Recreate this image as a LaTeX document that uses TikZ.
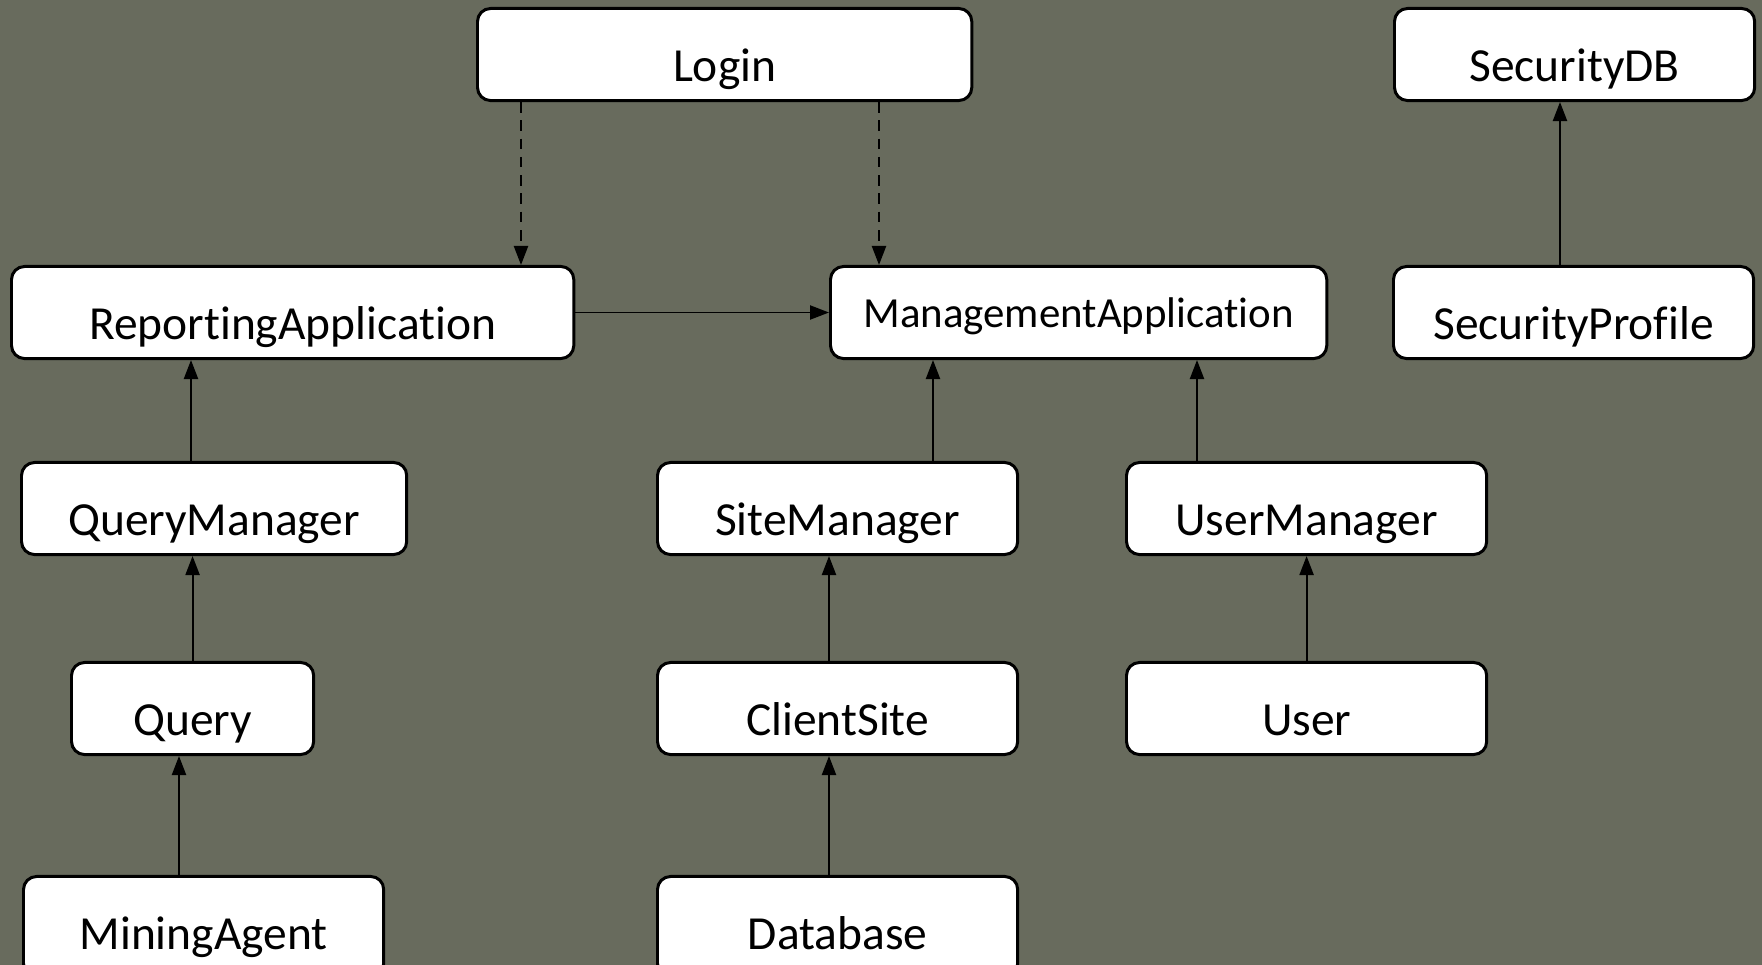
\documentclass[tikz,border=0pt]{standalone}
\usepackage{fontspec}
\setmainfont[Ligatures=NoCommon]{Carlito}
\usetikzlibrary{positioning,calc,arrows.meta}
\definecolor{slate}{RGB}{104,107,93}
\tikzset{>={Triangle[length=5.4pt,width=4pt]}}
\tikzset{
  classbox/.style={draw,fill=white,line width=0.85pt,rounded corners=0.13cm,
    anchor=north west,inner sep=0pt,minimum height=0.92cm,
    text height=0.73cm,text depth=0.19cm,font=\fontsize{13.5}{15}\selectfont},
  flow/.style={->,line width=0.55pt},
  uses/.style={->,line width=0.55pt,dash pattern=on 3pt off 2.2pt}
}

\begin{document}
\begin{tikzpicture}[x=0.01cm,y=-0.01cm]
% Canvas in pixels of the reference
\useasboundingbox (0,0) rectangle (1762,965);
\fill[slate] (0,0) rectangle (1762,965);

% Top row
\node[classbox,minimum width=4.94cm] (login) at (476,7) {Login};
\node[classbox,minimum width=3.60cm] (secdb) at (1393,7) {SecurityDB};

% Applications
\node[classbox,minimum width=5.62cm] (reporting) at (10,265) {ReportingApplication};
\node[classbox,minimum width=4.96cm,text height=0.61cm,text depth=0.31cm,
      font=\fontsize{12.2}{14}\selectfont] (management) at (829,265) {ManagementApplication};
\node[classbox,minimum width=3.60cm] (secprofile) at (1392,265) {SecurityProfile};

% Managers
\node[classbox,minimum width=3.85cm] (querymgr) at (20,461) {QueryManager};
\node[classbox,minimum width=3.60cm] (sitemgr) at (656,461) {SiteManager};
\node[classbox,minimum width=3.60cm] (usermgr) at (1125,461) {UserManager};

% Entities
\node[classbox,minimum width=2.42cm] (query) at (70,661) {Query};
\node[classbox,minimum width=3.60cm] (client) at (656,661) {ClientSite};
\node[classbox,minimum width=3.60cm] (user) at (1125,661) {User};

% Bottom row, cut by the canvas edge
\node[classbox,minimum width=3.60cm,minimum height=1.0cm,text depth=0.27cm] (miner) at (22,875) {MiningAgent};
\node[classbox,minimum width=3.60cm,minimum height=1.0cm,text depth=0.27cm] (database) at (656,875) {Database};

% Dependencies from Login
\draw[uses] ($(login.south west)+(45,0)$) coordinate (l1) -- (l1 |- reporting.north);
\draw[uses] ($(login.south west)+(403,0)$) coordinate (l2) -- (l2 |- management.north);

% Associations
\draw[flow] (reporting.east) -- (management.west);
\draw[flow] ($(querymgr.north west)+(171,0)$) coordinate (q1) -- (q1 |- reporting.south);
\draw[flow] (query.north) -- (query.north |- querymgr.south);
\draw[flow] ($(miner.north west)+(157,0)$) coordinate (m1) -- (m1 |- query.south);
\draw[flow] ($(sitemgr.north west)+(277,0)$) coordinate (s1) -- (s1 |- management.south);
\draw[flow] ($(client.north west)+(173,0)$) coordinate (c1) -- (c1 |- sitemgr.south);
\draw[flow] ($(database.north west)+(173,0)$) coordinate (d1) -- (d1 |- client.south);
\draw[flow] ($(usermgr.north west)+(72,0)$) coordinate (u1) -- (u1 |- management.south);
\draw[flow] (user.north) -- (usermgr.south);
\draw[flow] ($(secprofile.north west)+(168,0)$) coordinate (p1) -- (p1 |- secdb.south);

\end{tikzpicture}
\end{document}
